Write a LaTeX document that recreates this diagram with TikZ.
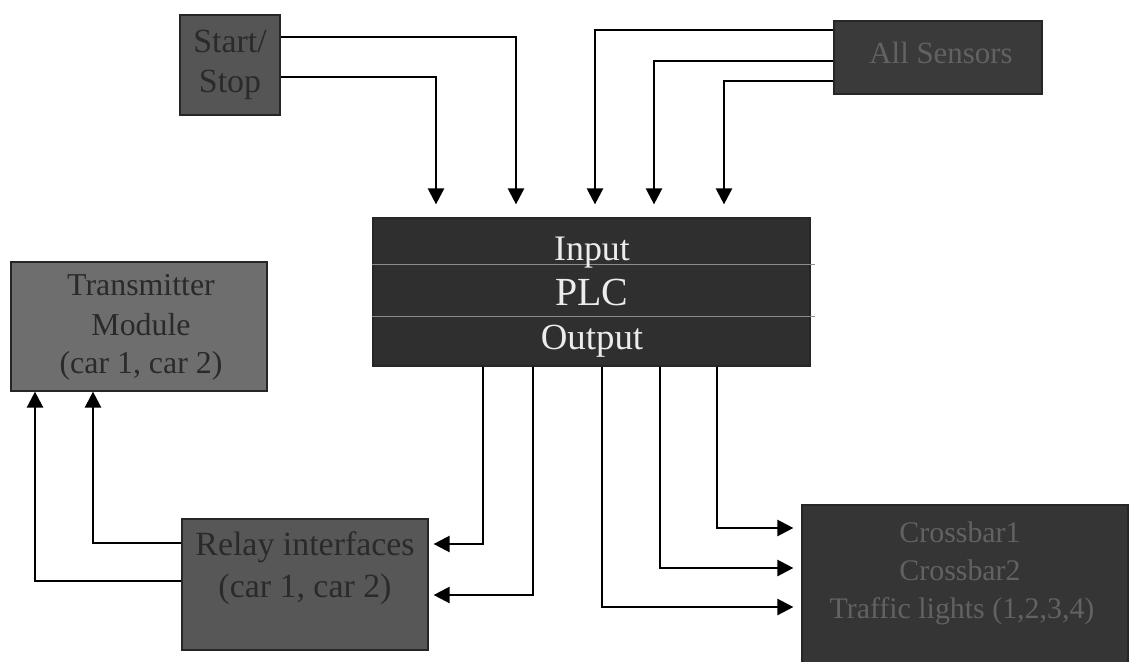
\documentclass[tikz,border=0pt]{standalone}
\usepackage{fontspec}
\setmainfont{Liberation Serif}
\usetikzlibrary{arrows.meta,fit}

% box fills and lettering
\definecolor{ssfill}{HTML}{555555}
\definecolor{asfill}{HTML}{3A3A3A}
\definecolor{plcfill}{HTML}{2F2F2F}
\definecolor{tmfill}{HTML}{6E6E6E}
\definecolor{relfill}{HTML}{575757}
\definecolor{cbfill}{HTML}{353535}
\definecolor{darktext}{HTML}{2A2A2A}
\definecolor{midtext}{HTML}{626262}
\definecolor{lighttext}{HTML}{ECECEC}

\newcommand\fsz[1]{\fontsize{#1}{#1}\selectfont}

\begin{document}
\begin{tikzpicture}[
  x=0.5bp, y=-0.5bp,
  box/.style={draw=black!85, line width=0.6bp, inner sep=0pt},
  wire/.style={line width=1.2bp, draw=black},
  arr/.style={wire, -{Triangle[length=8bp,width=8bp]}},
  lbl/.style={inner sep=0pt, anchor=base},
  sepline/.style={draw=black!45, line width=0.5bp}
]
\useasboundingbox (0,0) rectangle (1132,661);

% blocks
\node[box, fill=ssfill,  fit={(180,15) (280,115)}]   (ss)    {};
\node[box, fill=asfill,  fit={(834,21) (1042,94)}]   (as)    {};
\node[box, fill=plcfill, fit={(373,218) (810,366)}]  (plc)   {};
\node[box, fill=tmfill,  fit={(11,262) (267,391)}]   (tm)    {};
\node[box, fill=relfill, fit={(182,519) (428,650)}]  (relay) {};
\node[box, fill=cbfill,  fit={(802,505) (1128,668)}] (cb)    {};

% PLC section dividers
\draw[sepline] (plc.west |- 0,264) -- ++(443,0);
\draw[sepline] (plc.west |- 0,316) -- ++(443,0);

% labels
\node[lbl, font=\fsz{17}, text=darktext] (ss1) at (230,53) {Start/};
\node[lbl, font=\fsz{17}, text=darktext] (ss2) at (230,93) {Stop};

\node[lbl, font=\fsz{15.5}, text=midtext] (as1) at (941,63) {All Sensors};

\node[lbl, font=\fsz{18}, text=lighttext] (plc1) at (592,260) {Input};
\node[lbl, font=\fsz{20}, text=lighttext] (plc2) at (592,305) {PLC};
\node[lbl, font=\fsz{18.5}, text=lighttext] (plc3) at (592,349) {Output};

\node[lbl, font=\fsz{16}, text=darktext] (tm1) at (141,295) {Transmitter};
\node[lbl, font=\fsz{16}, text=darktext] (tm2) at (141,335) {Module};
\node[lbl, font=\fsz{16}, text=darktext] (tm3) at (141,373) {(car 1, car 2)};

\node[lbl, font=\fsz{17}, text=darktext] (re1) at (305,555) {Relay interfaces};
\node[lbl, font=\fsz{17}, text=darktext] (re2) at (305,597) {(car 1, car 2)};

\node[lbl, font=\fsz{15}, text=midtext] (cb1) at (960,542) {Crossbar1};
\node[lbl, font=\fsz{15}, text=midtext] (cb2) at (960,580) {Crossbar2};
\node[lbl, font=\fsz{15}, text=midtext] (cb3) at (962,618) {Traffic lights (1,2,3,4)};

% inputs into the PLC
\draw[arr, shorten >=6.5bp] (ss.east |- 0,37) -| (plc.north -| 516,0);
\draw[arr, shorten >=6.5bp] (ss.east |- 0,77) -| (plc.north -| 436,0);
\draw[arr, shorten >=6.5bp] (as.west |- 0,30) -| (plc.north -| 595,0);
\draw[arr, shorten >=6.5bp] (as.west |- 0,61) -| (plc.north -| 654,0);
\draw[arr, shorten >=6.5bp] (as.west |- 0,81) -| (plc.north -| 724,0);

% PLC outputs
\draw[arr, shorten >=2.5bp] (plc.south -| 483,0) |- (relay.east |- 0,544);
\draw[arr, shorten >=2.5bp] (plc.south -| 533,0) |- (relay.east |- 0,595);
\draw[arr, shorten >=4bp] (plc.south -| 602,0) |- (cb.west |- 0,607);
\draw[arr, shorten >=4bp] (plc.south -| 660,0) |- (cb.west |- 0,568);
\draw[arr, shorten >=4bp] (plc.south -| 717,0) |- (cb.west |- 0,528);

% relays to transmitter
\draw[arr] (relay.west |- 0,543) -| (tm.south -| 93,0);
\draw[arr] (relay.west |- 0,581) -| (tm.south -| 35,0);
\end{tikzpicture}
\end{document}
